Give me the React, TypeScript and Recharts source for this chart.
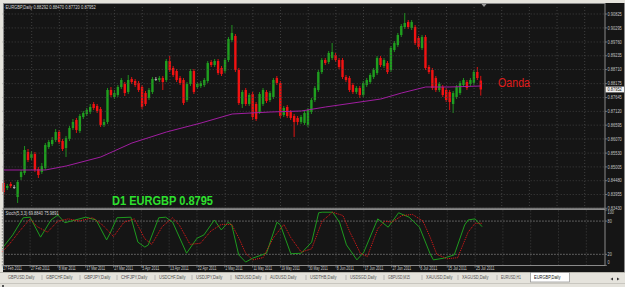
import React from "react";
import { ComposedChart, Bar, Line, XAxis, YAxis, ReferenceLine } from "recharts";

// ---------------- data ----------------
const dateLabels = ["17 Feb 2011", "27 Feb 2011", "8 Mar 2011", "17 Mar 2011", "27 Mar 2011", "5 Apr 2011", "13 Apr 2011", "22 Apr 2011", "2 May 2011", "11 May 2011", "19 May 2011", "30 May 2011", "8 Jun 2011", "17 Jun 2011", "27 Jun 2011", "6 Jul 2011", "15 Jul 2011", "25 Jul 2011"];

const open = [
  .84393, .84203, .84355, .84241, .83860, .84621, .84774, .85573, .85345, .85497,
  .84926, .84812, .84964, .85763, .85877, .86030, .86334, .85992, .85725, .86068,
  .86486, .86791, .86372, .86905, .87019, .87095, .87400, .87324, .87209, .86601,
  .86715, .87933, .87666, .87742, .88047, .88161, .87857, .88351, .88275, .88199,
  .88047, .87818, .87628, .87857, .88351, .88313, .88389, .88313, .89036, .88770,
  .88656, .88389, .88313, .87552, .88161, .88656, .88047, .88085, .88123, .88275,
  .88998, .88884, .89036, .88770, .88656, .89074, .89836, .89988, .88694, .87400,
  .87933, .87400, .87780, .87400, .87095, .87400, .87857, .87552, .87666, .88389,
  .88199, .86981, .87286, .87095, .86943, .86867, .86715, .86677, .86601, .87095,
  .87552, .87933, .88618, .89074, .88998, .89151, .89265, .89074, .89074, .88427,
  .88389, .88123, .87857, .88009, .87742, .88123, .88237, .88427, .88580, .89151,
  .88846, .88960, .88694, .89455, .89645, .90026, .90330, .90521, .90292, .90330,
  .89912, .89531, .89950, .88808, .88694, .88389, .87933, .88047, .87933, .87857,
  .87400, .87666, .87818, .88123, .88237, .88161, .88199, .88618, .88292,
];
const high = [
  .84507, .84355, .84431, .84317, .84507, .84888, .85801, .85687, .85611, .85573,
  .85002, .85154, .85915, .86030, .86144, .86448, .86410, .86068, .86182, .86562,
  .86829, .86867, .87019, .87133, .87248, .87400, .87476, .87400, .87286, .86829,
  .88009, .88047, .87933, .88123, .88389, .88237, .88504, .88427, .88351, .88275,
  .88123, .87895, .88009, .88427, .88427, .88465, .88465, .89112, .89227, .88846,
  .88732, .88465, .88389, .88237, .88732, .88732, .88237, .88275, .88389, .89036,
  .89074, .89112, .89112, .88846, .89151, .89950, .90407, .90064, .88770, .87933,
  .88009, .87818, .87857, .87476, .87857, .88009, .87933, .87895, .88389, .88465,
  .88275, .87324, .87362, .87171, .87019, .86943, .86981, .87133, .87248, .87628,
  .88085, .88694, .89151, .89151, .89417, .89721, .89341, .89151, .89151, .88504,
  .88465, .88199, .88085, .88085, .88275, .88389, .88580, .88770, .89227, .89227,
  .89151, .89036, .89607, .89798, .90102, .90445, .90863, .90597, .90597, .90407,
  .89988, .90026, .90026, .88884, .88770, .88465, .88237, .88123, .88009, .87933,
  .87895, .88123, .88275, .88389, .88313, .88389, .88694, .88808, .88470,
];
const low = [
  .83936, .84127, .84203, .84165, .83632, .84507, .84698, .85192, .85268, .84812,
  .84583, .84736, .84888, .85687, .85801, .85954, .85877, .85611, .85383, .85992,
  .86410, .86296, .86296, .86829, .86943, .87019, .87171, .87057, .86524, .86524,
  .86639, .87666, .87590, .87666, .87971, .87704, .87780, .88161, .88047, .87857,
  .87209, .87324, .87552, .87780, .88275, .88237, .87933, .88237, .88618, .88427,
  .88237, .88123, .87362, .87476, .88085, .87780, .87971, .88009, .88047, .88199,
  .88808, .88808, .88504, .88465, .88580, .88998, .89760, .88618, .87362, .87248,
  .87324, .87324, .86791, .86753, .87019, .87324, .87438, .87476, .87590, .88123,
  .86867, .86905, .86867, .86791, .86144, .86601, .86639, .86601, .86524, .87019,
  .87476, .87857, .88542, .88884, .88922, .89074, .88998, .88732, .88351, .88237,
  .87857, .87780, .87780, .87628, .87666, .88047, .88161, .88351, .88504, .88808,
  .88770, .88542, .88618, .89379, .89569, .89950, .90254, .90254, .90216, .89645,
  .89493, .89455, .88694, .88542, .87933, .87857, .87857, .87666, .87476, .87171,
  .87057, .87590, .87742, .88047, .87933, .88085, .88123, .88313, .87720,
];
const close = [
  .84051, .84279, .84279, .84241, .84431, .84812, .85649, .85268, .85497, .84888,
  .84698, .85040, .85839, .85954, .86030, .86334, .85954, .85687, .86106, .86486,
  .86715, .86410, .86943, .87057, .87171, .87286, .87248, .87133, .86601, .86715,
  .87933, .87742, .87818, .88047, .88313, .87818, .88313, .88237, .88123, .87933,
  .87286, .87400, .87933, .88351, .88351, .88389, .88237, .89036, .88694, .88504,
  .88313, .88199, .87438, .88161, .88656, .87857, .88161, .88199, .88313, .88960,
  .88884, .89036, .88580, .88542, .89074, .89874, .90102, .88694, .87438, .87857,
  .87400, .87742, .86905, .86829, .87780, .87933, .87514, .87818, .88313, .88199,
  .86943, .87248, .86943, .86867, .86715, .86715, .86905, .87057, .87171, .87552,
  .88009, .88618, .89074, .88960, .89341, .89379, .89074, .88808, .88427, .88313,
  .87933, .87857, .88009, .87742, .88199, .88313, .88504, .88694, .89151, .88884,
  .89074, .88618, .89531, .89721, .90026, .90368, .90483, .90330, .90521, .89721,
  .89569, .89950, .88770, .88618, .88009, .87933, .88161, .87742, .87552, .87476,
  .87818, .88047, .88199, .88313, .88009, .88313, .88618, .88389, .87952,
];

// moving average, read at a few bars
const maIdx = [0, 12, 18, 28, 37, 47, 57, 66, 77, 86, 93, 103, 109, 115, 122, 129, 138];
const maVal = [.84888, .84888, .85040, .85383, .85915, .86334, .86677, .87019, .87095, .87133, .87286, .87476, .87590, .87818, .88047, .88047, .88085];

// stochastic main line, read at a few bars
const stochIdx = [0, 3, 6, 8, 11, 14, 16, 18, 21, 24, 27, 30, 31, 33, 37, 39, 41, 42, 45, 47, 49, 53, 56, 58, 61, 63, 65, 66, 68, 70, 72, 76, 79, 80, 83, 86, 89, 91, 92, 95, 97, 99, 102, 104, 108, 111, 114, 117, 120, 123, 124, 127, 130, 133, 134, 136, 138];
const stochMain = [31, 55, 86, 87, 51, 82, 91, 77, 82, 87, 82, 46, 58, 86, 87, 42, 33, 37, 86, 87, 78, 22, 49, 55, 82, 64, 78, 73, 19, 6, 13, 22, 78, 73, 21, 22, 42, 95, 96, 96, 78, 37, 10, 24, 84, 69, 95, 87, 69, 22, 10, 13, 19, 73, 82, 84, 69.884];
// stochastic signal line
const signalIdx = [0, 2, 5, 8, 10, 13, 16, 19, 22, 26, 29, 32, 35, 38, 41, 43, 46, 49, 51, 54, 57, 60, 63, 66, 68, 70, 72, 75, 78, 81, 83, 86, 89, 92, 95, 98, 100, 103, 105, 108, 110, 112, 115, 118, 121, 123, 125, 128, 131, 134, 136, 138];
const stochSignal = [25, 38, 62, 84, 70, 60, 80, 84, 80, 86, 72, 52, 78, 84, 48, 38, 70, 86, 72, 38, 40, 62, 74, 74, 50, 22, 10, 14, 50, 74, 50, 24, 30, 80, 96, 90, 60, 22, 16, 66, 80, 78, 90, 92, 80, 52, 20, 12, 14, 60, 76, 75.989];

const priceTicks = [0.90825, 0.90295, 0.89760, 0.89235, 0.88710, 0.88175, 0.87645, 0.87120, 0.86595, 0.86070, 0.85530, 0.85005, 0.84480, 0.83955, 0.83430];
const stochTicks = [100, 80, 20, 0];
const stochLevels = [80, 20];
const gridIdx = [0, 8, 16, 24, 32, 40, 48, 56, 64, 72, 80, 88, 96, 104, 112, 120, 128, 136, 144, 152, 160, 168];
const tabNames = ["GBPUSD,Daily", "GBPCHF,Daily", "GBPJPY,Daily", "CHFJPY,Daily", "USDCHF,Daily", "USDJPY,Daily", "NZDUSD,Daily", "AUDUSD,Daily", "USDTHB,Daily", "USDSGD,Daily", "GBPUSD,M15", "XAUUSD,Daily", "XAGUSD,Daily", "EURUSD,H1", "EURGBP,Daily"];
const tabX = [8, 46, 84, 121, 159, 196, 235, 270, 310, 350, 388, 426, 462, 501, 534];
const titleText = "EURGBP,Daily 0.88292 0.88470 0.87720 0.87952";
const stochText = "Stoch(5,3,3) 69.8840 75.9891";
const bigLabel = "D1 EURGBP 0.8795";
const brokerLabel = "Oanda";

// ---------------- layout / styles ----------------
const SLOTS = 174;
const DATE_STEP = 8;
const FONT = "'Liberation Sans', Arial, sans-serif";
const BG = "#151515";
const GREEN = "#1f9f1f";
const RED = "#f21212";
const DOJI = "#b4b4b4";
const GRID = "#4a4a4a";
const lastPrice = close[close.length - 1];

const rows: any[] = Array.from({ length: SLOTS }, (_, i) => {
  const r: any = { idx: i };
  if (i < open.length) {
    r.o = open[i];
    r.h = high[i];
    r.l = low[i];
    r.c = close[i];
    r.range = [low[i], high[i]];
  }
  return r;
});
maIdx.forEach((k, j) => { rows[k].ma = maVal[j]; });
stochIdx.forEach((k, j) => { rows[k].k = stochMain[j]; });
signalIdx.forEach((k, j) => { rows[k].d = stochSignal[j]; });

const tw = (s: string, per: number) => s.length * per;

function Candle(props: any) {
  const { x, y, width, height, payload } = props;
  if (!payload || payload.o == null) return <g />;
  const { o, c, h, l } = payload;
  const top = Math.min(y, y + height);
  const hh = Math.abs(height);
  const k = h > l ? hh / (h - l) : 0;
  const yO = top + (h - o) * k;
  const yC = top + (h - c) * k;
  const cx = x + width / 2;
  const col = c > o ? GREEN : c < o ? RED : DOJI;
  const bt = Math.min(yO, yC);
  const bh = Math.max(0.9, Math.abs(yC - yO));
  return (
    <g>
      <line x1={cx} x2={cx} y1={top} y2={top + hh} stroke={col} strokeWidth={0.9} />
      <rect x={cx - 1.2} y={bt} width={2.4} height={bh} fill={col} />
    </g>
  );
}

function PriceTick(p: any) {
  const v = Number(p.payload.value);
  const y = p.y;
  const isCur = v === lastPrice;
  const s = v.toFixed(5);
  return (
    <g>
      {isCur ? (
        <rect x={605.5} y={y - 2.9} width={18.5} height={5.8} fill="#f2f2f2" />
      ) : (
        <line x1={605} x2={607} y1={y} y2={y} stroke="#a8a8a8" strokeWidth={0.6} />
      )}
      <text x={607.6} y={y + 1.7} fontSize={4.8} fontFamily={FONT} fill={isCur ? "#111" : "#c4c4c4"}
        textLength={14.2} lengthAdjust="spacingAndGlyphs">{s}</text>
    </g>
  );
}

function StochTick(p: any) {
  const v = Number(p.payload.value);
  let y = p.y;
  if (v === 100) y += 2;
  if (v === 0) y -= 3;
  const s = String(v);
  return (
    <g>
      <line x1={605} x2={607} y1={p.y} y2={p.y} stroke="#a8a8a8" strokeWidth={0.6} />
      <text x={607.6} y={y + 1.7} fontSize={4.8} fontFamily={FONT} fill="#c4c4c4"
        textLength={tw(s, 2.1)} lengthAdjust="spacingAndGlyphs">{s}</text>
    </g>
  );
}

function DateTick(p: any) {
  const v = Number(p.payload.value);
  const s = dateLabels[v / DATE_STEP];
  if (!s) return <g />;
  return (
    <g>
      <line x1={p.x} x2={p.x} y1={59.4} y2={61.6} stroke="#a8a8a8" strokeWidth={0.6} />
      <text x={p.x + 0.8} y={64.2} fontSize={4.7} fontFamily={FONT} fill="#c8c8c8"
        textLength={tw(s, 1.7)} lengthAdjust="spacingAndGlyphs">{s}</text>
    </g>
  );
}

export default function App() {
  return (
    <div style={{ position: "absolute", left: 0, top: 0, width: 625, height: 287, background: "#e5e3dc", overflow: "hidden" }}>
      <div style={{ position: "absolute", left: 3, top: 3, width: 622, height: 269, background: BG }} />

      {/* main price panel */}
      <div style={{ position: "absolute", left: 0, top: 0 }}>
        <ComposedChart width={625} height={215} data={rows} margin={{ top: 5, right: 1.3, bottom: 6, left: 2.31 }}>
          <XAxis dataKey="idx" type="category" hide />
          <YAxis orientation="right" width={20} type="number" domain={[0.83403, 0.91168]} allowDataOverflow
            ticks={[...priceTicks, lastPrice]} interval={0} axisLine={false} tickLine={false} tick={<PriceTick />} />
          {priceTicks.map((v) => (
            <ReferenceLine key={"h" + v} y={v} stroke={GRID} strokeDasharray="1 2" strokeWidth={0.8} />
          ))}
          {gridIdx.map((v) => (
            <ReferenceLine key={"v" + v} x={v} stroke={GRID} strokeDasharray="1 2" strokeWidth={0.8} />
          ))}
          <Bar dataKey="range" barSize={3} isAnimationActive={false} shape={(p: any) => <Candle {...p} />} />
          <Line type="linear" dataKey="ma" connectNulls stroke="#a01ea0" strokeWidth={1} dot={false} activeDot={false} isAnimationActive={false} />
        </ComposedChart>
      </div>

      {/* stochastic panel */}
      <div style={{ position: "absolute", left: 0, top: 206 }}>
        <ComposedChart width={625} height={66} data={rows} margin={{ top: 4, right: 1.3, bottom: 0, left: 2.31 }}>
          <XAxis dataKey="idx" type="category" height={6.6} interval={DATE_STEP - 1} axisLine={false} tickLine={false} tick={<DateTick />} />
          <YAxis orientation="right" width={20} type="number" domain={[0, 100]} ticks={stochTicks} interval={0}
            axisLine={false} tickLine={false} tick={<StochTick />} />
          {gridIdx.map((v) => (
            <ReferenceLine key={"sv" + v} x={v} stroke={GRID} strokeDasharray="1 2" strokeWidth={0.8} />
          ))}
          {stochLevels.map((v) => (
            <ReferenceLine key={"lv" + v} y={v} stroke="#8c8c8c" strokeDasharray="1.5 1.5" strokeWidth={0.8} />
          ))}
          <Line type="linear" dataKey="k" connectNulls stroke="#1e9a1e" strokeWidth={1} dot={false} activeDot={false} isAnimationActive={false} />
          <Line type="linear" dataKey="d" connectNulls stroke="#e81818" strokeWidth={1} strokeDasharray="1 1" dot={false} activeDot={false} isAnimationActive={false} />
        </ComposedChart>
      </div>

      {/* frame, labels and tabs */}
      <svg width={625} height={287} style={{ position: "absolute", left: 0, top: 0, pointerEvents: "none" }}>
        <rect x={3.5} y={3.5} width={601.5} height={204.8} fill="none" stroke="#8a8a8a" strokeWidth={1} />
        <rect x={3.5} y={209.5} width={601.5} height={56} fill="none" stroke="#8a8a8a" strokeWidth={1} />
        <line x1={624.5} x2={624.5} y1={3} y2={272} stroke="#8a8a8a" />
        <polygon points="481.5,4 486.5,4 484,7" fill="#9a9a9a" />
        <text x={5.5} y={9.4} fontSize={4.6} fontFamily={FONT} fill="#d8d8d8" textLength={tw(titleText, 2.05)} lengthAdjust="spacingAndGlyphs">{titleText}</text>
        <text x={5.5} y={215.2} fontSize={4.6} fontFamily={FONT} fill="#d8d8d8" textLength={tw(stochText, 1.9)} lengthAdjust="spacingAndGlyphs">{stochText}</text>
        <text x={112} y={205.3} fontSize={12.5} fontWeight="bold" fontFamily={FONT} fill="#2ee02e" textLength={101} lengthAdjust="spacingAndGlyphs">{bigLabel}</text>
        <text x={498} y={86.6} fontSize={12} fontFamily={FONT} fill="#e01c1c" textLength={32} lengthAdjust="spacingAndGlyphs">{brokerLabel}</text>

        <line x1={0} x2={625} y1={272.5} y2={272.5} stroke="#b8b6ae" />
        {tabNames.map((s, i) => {
          const active = i === tabNames.length - 1;
          return (
            <g key={s}>
              {active && <rect x={tabX[i] - 3.5} y={272.5} width={39} height={9.5} fill="#ffffff" stroke="#8e8e8e" strokeWidth={0.7} />}
              {i > 0 && !active && <line x1={tabX[i] - 4} x2={tabX[i] - 4} y1={275} y2={280} stroke="#9a9a9a" strokeWidth={0.6} />}
              <text x={tabX[i]} y={279.4} fontSize={5} fontFamily={FONT} fill={active ? "#111" : "#505050"}
                textLength={tw(s, 2.2)} lengthAdjust="spacingAndGlyphs">{s}</text>
            </g>
          );
        })}
        <polygon points="613,277.5 610.5,279 613,280.5" fill="#333" />
        <polygon points="617,277.5 619.5,279 617,280.5" fill="#333" />
        <line x1={0} x2={625} y1={283.5} y2={283.5} stroke="#c9c7c0" />
        <rect x={2} y={285} width={2} height={2} fill="#555" />
      </svg>
    </div>
  );
}
